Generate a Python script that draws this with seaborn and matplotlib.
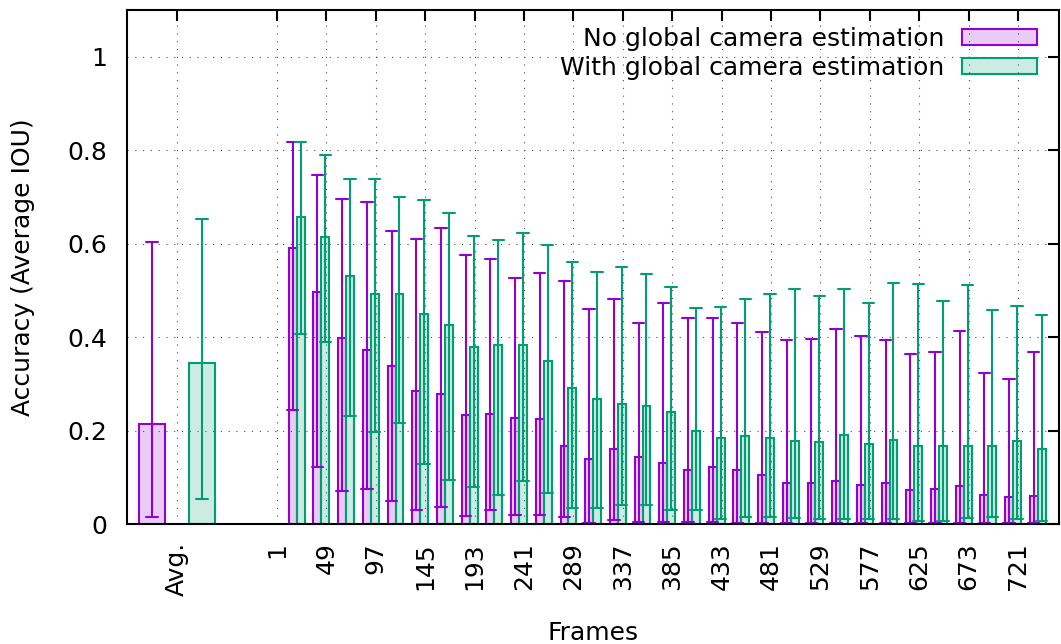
import numpy as np
import pandas as pd
import matplotlib
matplotlib.use("Agg")
import matplotlib.pyplot as plt
import seaborn as sns
from matplotlib.colors import to_rgba

# ---------------- data ----------------
series_names = ["No global camera estimation", "With global camera estimation"]
series_colors = ["#9400D3", "#009E73"]

avg_label = "Avg."
frame_labels = ["1", "49", "97", "145", "193", "241", "289", "337", "385",
                "433", "481", "529", "577", "625", "673", "721"]

avg_mean = [0.214, 0.345]
avg_low = [0.015, 0.054]
avg_high = [0.604, 0.653]

no_cam_mean = [0.591, 0.497, 0.399, 0.373, 0.339, 0.285, 0.278, 0.234, 0.236, 0.226,
               0.224, 0.168, 0.140, 0.161, 0.143, 0.131, 0.116, 0.123, 0.116, 0.105,
               0.088, 0.087, 0.092, 0.084, 0.087, 0.072, 0.074, 0.081, 0.062, 0.057, 0.061]
no_cam_low = [0.244, 0.122, 0.070, 0.076, 0.050, 0.030, 0.037, 0.018, 0.029, 0.020,
              0.020, 0.015, 0.002, 0.009, 0.005, 0.004, 0.004, 0.004, 0.002, 0.002,
              0.002, 0.002, 0.002, 0.002, 0.002, 0.002, 0.002, 0.002, 0.002, 0.002, 0.002]
no_cam_high = [0.818, 0.747, 0.695, 0.689, 0.628, 0.610, 0.633, 0.575, 0.567, 0.526,
               0.537, 0.520, 0.461, 0.481, 0.430, 0.472, 0.440, 0.441, 0.431, 0.410,
               0.394, 0.397, 0.418, 0.402, 0.393, 0.363, 0.369, 0.413, 0.324, 0.311, 0.368]

cam_mean = [0.658, 0.615, 0.530, 0.492, 0.492, 0.449, 0.426, 0.379, 0.384, 0.384,
            0.349, 0.292, 0.268, 0.256, 0.252, 0.239, 0.198, 0.185, 0.189, 0.185,
            0.178, 0.175, 0.190, 0.172, 0.180, 0.166, 0.166, 0.168, 0.166, 0.177, 0.161]
cam_low = [0.407, 0.390, 0.231, 0.197, 0.216, 0.129, 0.095, 0.079, 0.063, 0.092,
           0.067, 0.035, 0.035, 0.040, 0.040, 0.029, 0.029, 0.011, 0.016, 0.014,
           0.012, 0.010, 0.010, 0.010, 0.010, 0.007, 0.007, 0.012, 0.014, 0.011, 0.006]
cam_high = [0.818, 0.789, 0.738, 0.738, 0.700, 0.693, 0.666, 0.617, 0.608, 0.623,
            0.598, 0.561, 0.540, 0.550, 0.534, 0.507, 0.462, 0.465, 0.482, 0.492,
            0.503, 0.487, 0.503, 0.472, 0.515, 0.513, 0.477, 0.512, 0.459, 0.467, 0.447]

y_ticks = [0, 0.2, 0.4, 0.6, 0.8, 1.0]
y_tick_labels = ["0", "0.2", "0.4", "0.6", "0.8", "1"]

# ---------------- layout constants ----------------
GROUP_OFFSET = 0.8      # first frame cluster relative to the "1" tick
BAR_W = 0.32            # frame bar width (one series)
AVG_POS = -4.05         # position of the "Avg." tick
AVG_SHIFT = 1.01
AVG_W = 1.05
FS = 18

sns.set_style("white")
plt.rcParams["font.family"] = ["DejaVu Sans"]
plt.rcParams["font.size"] = FS
for k in ["text.color", "axes.labelcolor", "xtick.color", "ytick.color"]:
    plt.rcParams[k] = "black"

fig = plt.figure(figsize=(10.61, 6.44), dpi=100)
ax = fig.add_axes([0.1197, 0.1863, 0.8784, 0.7982])


def long_df(pos, low, mean, high):
    vals = np.column_stack([low, mean, high]).ravel()
    return pd.DataFrame({"x": np.repeat(np.asarray(pos, float), 3), "value": vals})


def draw(df, width, color, label=None):
    n0 = len(ax.patches)
    sns.barplot(data=df, x="x", y="value", native_scale=True, orient="x",
                estimator="median", errorbar=("pi", 100), width=width,
                capsize=0.46, color=color, saturation=1,
                err_kws={"color": color, "linewidth": 1.5},
                label=label, ax=ax)
    for p in ax.patches[n0:]:
        p.set_facecolor(to_rgba(color, 0.2))
        p.set_edgecolor(color)
        p.set_linewidth(1.5)


groups = np.arange(len(no_cam_mean)) + GROUP_OFFSET
frame_series = [(no_cam_low, no_cam_mean, no_cam_high), (cam_low, cam_mean, cam_high)]
for i, (name, color) in enumerate(zip(series_names, series_colors)):
    sign = -1 if i == 0 else 1
    # average bars
    draw(long_df([AVG_POS + sign * AVG_SHIFT], [avg_low[i]], [avg_mean[i]], [avg_high[i]]),
         AVG_W, color)
    low, mean, high = frame_series[i]
    draw(long_df(groups + sign * BAR_W / 2, low, mean, high), BAR_W, color, label=name)

if ax.get_legend() is not None:
    ax.get_legend().remove()

# ---------------- axes styling ----------------
ax.set_xlim(-6.07, 31.66)
ax.set_ylim(0, 1.1)
xt = [AVG_POS] + [2 * j for j in range(len(frame_labels))]
ax.set_xticks(xt)
ax.set_xticklabels([avg_label] + frame_labels, rotation=90, fontsize=FS, va="top", ha="center")
ax.set_yticks(y_ticks)
ax.set_yticklabels(y_tick_labels, fontsize=FS)
ax.tick_params(axis="both", direction="in", top=True, right=True, length=8, width=1.5,
               color="black", labelcolor="black")
ax.tick_params(axis="x", pad=13)
ax.tick_params(axis="y", pad=14)
for s in ax.spines.values():
    s.set_visible(True)
    s.set_color("black")
    s.set_linewidth(1.5)

ax.set_axisbelow(True)
ax.grid(True, color="0.3", linestyle=(0, (1, 6)), linewidth=0.8)

ax.set_xlabel("Frames", fontsize=FS, color="black")
ax.xaxis.set_label_coords(0.5, -0.188)
ax.set_ylabel("Accuracy (Average IOU)", fontsize=FS, color="black")
ax.yaxis.set_label_coords(-0.099, 0.5)

handles, labels = ax.get_legend_handles_labels()
leg = fig.legend(handles, labels, loc="upper right", bbox_to_anchor=(1037 / 1061, 1 - 27 / 644),
                 frameon=False, markerfirst=False, borderpad=0, borderaxespad=0,
                 handlelength=3.0, handleheight=0.62, handletextpad=0.7,
                 labelspacing=0.2, fontsize=FS)

fig.savefig("out.png", dpi=100)
